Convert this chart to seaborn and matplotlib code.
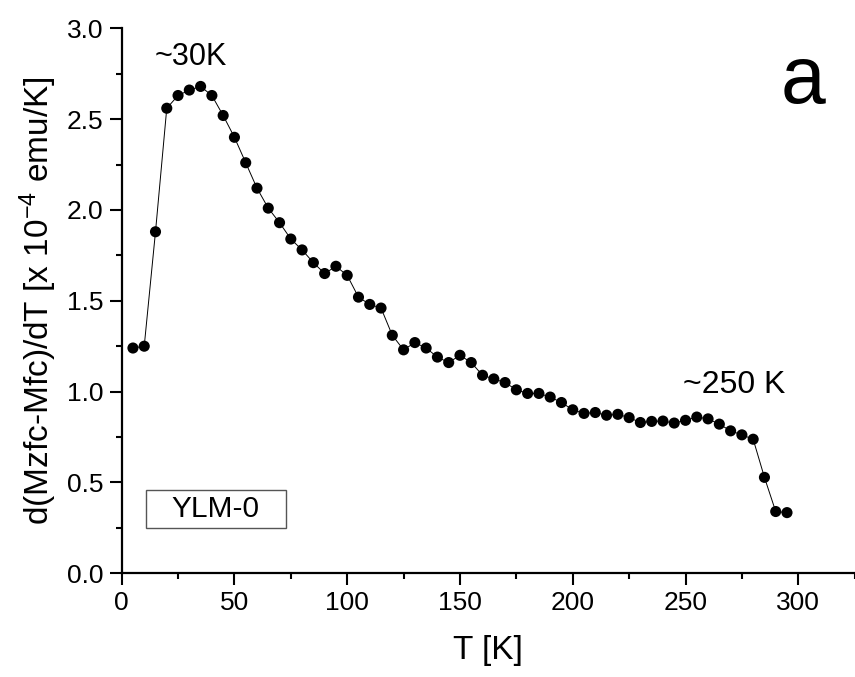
import numpy as np
import pandas as pd
import matplotlib
matplotlib.use("Agg")
import matplotlib.pyplot as plt
from matplotlib.patches import Rectangle
from matplotlib.ticker import MultipleLocator
import seaborn as sns

# Temperature (K) and derivative of the ZFC-FC magnetisation difference (x 1e-4 emu/K)
temperature = [5, 10, 15, 20, 25, 30, 35, 40, 45, 50,
               55, 60, 65, 70, 75, 80, 85, 90, 95, 100,
               105, 110, 115, 120, 125, 130, 135, 140, 145, 150,
               155, 160, 165, 170, 175, 180, 185, 190, 195, 200,
               205, 210, 215, 220, 225, 230, 235, 240, 245, 250,
               255, 260, 265, 270, 275, 280, 285, 290, 295]
dm_dt = [1.24, 1.25, 1.88, 2.56, 2.63, 2.66, 2.68, 2.63, 2.52, 2.40,
         2.26, 2.12, 2.01, 1.93, 1.84, 1.78, 1.71, 1.65, 1.69, 1.64,
         1.52, 1.48, 1.46, 1.31, 1.23, 1.27, 1.24, 1.19, 1.16, 1.20,
         1.16, 1.09, 1.07, 1.05, 1.01, 0.99, 0.99, 0.97, 0.94, 0.90,
         0.88, 0.885, 0.87, 0.875, 0.857, 0.83, 0.836, 0.838, 0.827, 0.842,
         0.86, 0.85, 0.821, 0.784, 0.762, 0.738, 0.528, 0.34, 0.334]

x_ticks = [0, 50, 100, 150, 200, 250, 300]
y_ticks = [0.0, 0.5, 1.0, 1.5, 2.0, 2.5, 3.0]
sample_label = "YLM-0"

df = pd.DataFrame({"T": temperature, "dM": dm_dt})

sns.set_theme(style="ticks")
plt.rcParams["font.family"] = ["Liberation Sans", "DejaVu Sans"]
plt.rcParams["mathtext.fontset"] = "custom"
plt.rcParams["mathtext.rm"] = "Liberation Sans"
plt.rcParams["mathtext.it"] = "Liberation Sans"
plt.rcParams["mathtext.default"] = "regular"
for key in ("text.color", "axes.labelcolor", "xtick.color", "ytick.color",
            "axes.edgecolor"):
    plt.rcParams[key] = "black"

fig = plt.figure(figsize=(8.55, 6.77), dpi=100)
ax = fig.add_axes([0.1423, 0.1532, 0.8573, 0.8050])

sns.lineplot(data=df, x="T", y="dM", ax=ax, color="black", linewidth=0.7,
             sort=False, zorder=2)
sns.scatterplot(data=df, x="T", y="dM", ax=ax, color="black", s=64,
                edgecolor="none", zorder=3)

ax.set_xlim(0, 325)
ax.set_ylim(0, 3.0)
ax.set_xticks(x_ticks)
ax.set_yticks(y_ticks)
ax.set_yticklabels([f"{v:.1f}" for v in y_ticks])
ax.xaxis.set_minor_locator(MultipleLocator(25))
ax.yaxis.set_minor_locator(MultipleLocator(0.25))

for side in ("top", "right"):
    ax.spines[side].set_visible(False)
for side in ("left", "bottom"):
    ax.spines[side].set_linewidth(1.6)

ax.tick_params(which="major", direction="out", length=8.5, width=1.5,
               labelsize=19, pad=4.5)
ax.tick_params(which="minor", direction="out", length=4.5, width=1.5)

ax.set_xlabel("T [K]", fontsize=24, labelpad=14)
ax.set_ylabel(r"d(Mzfc-Mfc)/dT [x 10$^{-4}$ emu/K]", fontsize=24, labelpad=6)

ax.text(14.8, 2.80, "~30K", fontsize=22, ha="left", va="baseline")
ax.text(249, 0.99, "~250 K", fontsize=23, ha="left", va="baseline")
ax.text(0.93, 0.863, "a", transform=ax.transAxes, fontsize=58,
        ha="center", va="baseline")

ax.add_patch(Rectangle((0.0327, 0.0837), 0.1914, 0.0692, transform=ax.transAxes,
                       fill=False, edgecolor="#555555", linewidth=1.0))
ax.text(0.1284, 0.1183, sample_label, transform=ax.transAxes, fontsize=21.5,
        ha="center", va="center")

fig.savefig("out.png", dpi=100, facecolor="white")
